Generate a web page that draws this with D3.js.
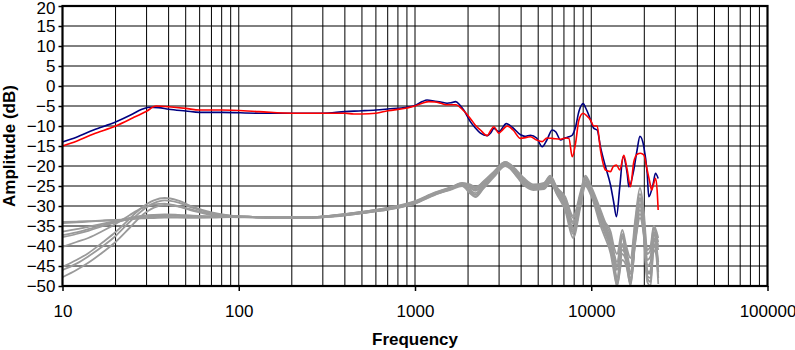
<!DOCTYPE html>
<html><head><meta charset="utf-8">
<script src="https://cdn.jsdelivr.net/npm/d3@7"></script>
<style>
body{margin:0;background:#fff}
text{font-family:"Liberation Sans",Arial,sans-serif}
</style>
</head><body>
<svg id="c" width="795" height="350"></svg>
<script>
const yTicks = [20,15,10,5,0,-5,-10,-15,-20,-25,-30,-35,-40,-45,-50];
const xTicks = [10,100,1000,10000,100000];

const blueF = [10,12,15,20,25,28,31,35,40,50,60,80,130,200,300,400,500,600,700,900,1000,1100,1170,1300,1400,1520,1600,1700,1800,1890,2060,2200,2350,2570,2700,2800,2990,3300,3600,3970,4200,4520,4900,5270,5600,6000,6300,6690,7100,7470,7800,8150,8510,9000,9300,9680,10000,10340,10800,11280,12050,12860,13400,13900,14520,15170,16000,16350,17430,18200,18900,19880,20770,21200,22440,23130,23970];
const blueDb = [-14,-12.8,-11,-9,-7,-5.9,-5.3,-5.4,-5.8,-6.25,-6.6,-6.6,-6.8,-6.8,-6.8,-6.4,-6.2,-6,-5.75,-5.3,-4.9,-3.9,-3.5,-3.8,-4,-4.3,-4.2,-3.9,-4.8,-6,-8.9,-10.5,-11.8,-12.4,-11.6,-10.6,-11.4,-9.4,-10.5,-12.2,-12.6,-12.3,-13,-15.2,-13.5,-11,-11.5,-13.5,-13,-12.7,-12.3,-10.2,-6.4,-4.4,-5.5,-7.25,-9,-10.6,-11,-15.2,-20.2,-24.75,-29,-32.7,-25.2,-17.7,-22,-25.2,-21,-16,-12.6,-15.2,-21.8,-27.7,-24.5,-21.8,-23.1];

const redF = [10,12,15,20,25,30,34,40,50,60,80,130,200,300,400,450,500,600,700,900,1000,1100,1200,1300,1400,1520,1700,1890,2060,2200,2350,2570,2700,2800,2990,3100,3340,3600,3970,4520,4900,5270,5600,6000,6690,7200,7470,7800,8150,8510,9000,9500,9900,10340,10800,11280,12050,12860,13300,13900,14520,15300,16000,16700,17430,18300,19020,19880,20770,21480,22000,22600,23130,23640,23970];
const redDb = [-15,-13.8,-12,-10,-8,-6.3,-5,-5.2,-5.6,-6,-6,-6.4,-6.8,-6.8,-6.8,-7,-7,-6.8,-6.2,-5.5,-5,-4.3,-3.9,-4,-4.3,-4.7,-4.7,-6.2,-8.1,-9.8,-11,-12.4,-11,-10.2,-11.8,-11.2,-10,-11,-13.1,-12.7,-13.5,-13.9,-13,-13.1,-13.3,-13,-13.1,-17.7,-14.3,-8.5,-6.8,-7.6,-8.5,-10,-10,-16,-21,-21.4,-20.2,-19.75,-21,-17.3,-21,-25.2,-19,-17,-16.8,-17.25,-21,-24,-26,-24.5,-23.1,-26,-31];

const grayF = [10,12,14,17,20,24,28,33,38,45,55,70,90,120,170,250,350,500,700,1000,1300,1600,1850,2050,2200,2450,2800,3250,3800,4150,4700,5400,5850,6400,7100,7900,8700,9250,10100,11300,12000,12900,13500,14000,15000,15800,16700,17800,18900,19800,20800,21700,22600,23300,24000];
const gray1 = [-34,-33.9,-33.8,-33.6,-33.5,-33.3,-33.1,-33,-32.9,-32.9,-32.9, -32.8,-32.7,-32.8,-33,-33,-32.5,-31.7,-30.8,-29.2, -27,-25.7,-24.4,-25.2,-26,-24.6,-22.2,-19.8,-22.3,-24.2, -25.6,-25.2,-23.6,-26.6,-29.5,-36.5,-29,-24,-27,-33, -36,-40,-45,-49,-40,-43,-48,-37,-30,-35, -46,-47,-38,-40,-45];
const gray2 = [-36.4,-35.8,-35.2,-34.4,-33.8,-33,-32.5,-32.2,-32.1,-32.2,-32.4, -32.6,-32.6,-32.7,-32.8,-32.8,-32.3,-31.5,-30.5,-28.9, -26.7,-25.4,-24.2,-24.6,-25.2,-24,-21.6,-19.2,-21.5,-23.4, -25,-24.6,-22.8,-25.8,-28,-33,-27,-22.8,-26,-31.5, -34.5,-37.5,-42,-44,-37,-41,-45,-34,-27,-32, -42,-41,-35.5,-37,-39];
const gray3 = [-37.3,-36.6,-35.8,-34.8,-34,-33.3,-32.9,-32.7,-32.7,-32.8,-32.9, -32.9,-32.8,-32.9,-33,-33,-32.6,-31.8,-30.9,-29.3, -27.1,-25.8,-24.8,-26.2,-27.2,-25.2,-22.5,-19.8,-22.5,-24.5, -25.8,-25.6,-24,-27,-30.5,-37,-29.5,-24.5,-27.5,-34, -37,-41,-46,-50,-42,-44,-50,-38,-31,-36, -48,-49,-40,-41,-48];
const gray4 = [-37.8,-37,-36.2,-35,-34.1,-33.2,-32.6,-32.3,-32.3,-32.4,-32.6, -32.7,-32.7,-32.8,-32.9,-32.9,-32.4,-31.6,-30.7,-29.1, -26.9,-25.6,-24.6,-25.9,-26.8,-24.8,-22,-19.4,-21.8,-23.8, -25.3,-24.8,-23,-26,-28.6,-34,-27.5,-23,-26.2,-32, -35,-38.5,-43,-46,-38,-42.5,-47,-36,-28.5,-33.5, -45,-44,-37,-38.5,-41];
const gray5 = [-40.2,-39,-38,-36.2,-34.5,-32.3,-30.6,-29.6,-29.4,-30,-31, -32,-32.5,-32.7,-32.8,-32.8,-32.3,-31.5,-30.6,-29, -26.8,-25.4,-24.4,-25,-25.6,-24.2,-21.8,-19,-21.2,-23, -24.6,-24.2,-22.4,-25.4,-27.6,-32.5,-26.4,-22.4,-25.6,-31, -34,-36.5,-40.5,-42,-36,-40,-43,-33,-25.5,-30.5, -41,-40,-35,-36,-38];
const gray6 = [-45.2,-43.5,-41.8,-39,-36.5,-33.2,-30.5,-28.6,-28,-28.6,-30.2, -31.6,-32.4,-32.7,-32.9,-32.9,-32.5,-31.7,-30.8,-29.2, -27,-25.7,-24.7,-26.6,-27.6,-25.4,-22.4,-19.6,-22.8,-24.8, -26,-25.8,-24.2,-27.2,-31,-38,-30,-25,-28,-35, -38,-42,-47,-50,-43.5,-45,-49.5,-39,-33,-37, -49,-50,-41,-42,-49.5];
const gray7 = [-46,-44.4,-42.6,-40,-37.5,-34,-31.3,-29.3,-28.6,-29.1,-30.5, -31.8,-32.5,-32.7,-32.8,-32.8,-32.4,-31.5,-30.5,-28.8, -26.6,-25.3,-24.3,-24.8,-25.4,-23.8,-21.4,-19,-21.6,-23.6, -25,-24.4,-22.6,-25.8,-28.4,-34.5,-27.8,-23.2,-26.8,-32.5, -35.5,-39.5,-44.5,-48,-39.5,-43.5,-48.5,-37.5,-29.5,-34.5, -47,-46,-38.5,-39.5,-44];
const gray8 = [-47.8,-46,-44.2,-41.5,-39,-35.5,-32.5,-30.4,-29.7,-30.1,-31.2, -32.2,-32.6,-32.8,-33,-33,-32.6,-31.8,-30.9,-29.4, -27.2,-25.9,-25,-26.8,-27.8,-25.6,-22.8,-20,-22.6,-24.6, -25.8,-25.4,-23.8,-26.8,-30,-36,-28.6,-24.2,-27.2,-33.5, -36.5,-40.5,-45.5,-49.5,-41,-43,-49,-38.5,-32,-36.5, -47.5,-48,-39.5,-40.5,-46.5];
const gray9 = [-34.3,-34.1,-33.9,-33.7,-33.5,-33.2,-32.9,-32.6,-32.4,-32.4,-32.5, -32.6,-32.6,-32.7,-32.9,-32.9,-32.4,-31.6,-30.6,-29, -26.8,-25.5,-24.5,-25.4,-26.2,-24.4,-22,-19.4,-22,-24, -25.4,-25,-23.2,-26.2,-29.2,-35.5,-28.2,-23.6,-26.6,-33, -35.8,-38,-42.5,-45,-37.5,-41.5,-46.5,-35,-28,-33, -43.5,-42.5,-36.5,-37.5,-40];
const graySeries = [gray1,gray2,gray3,gray4,gray5,gray6,gray7,gray8,gray9];

const svg = d3.select("#c");
const X0 = 62.5, X1 = 767.5, Y0 = 6, Y1 = 286;
const x = d3.scaleLog().domain([10,100000]).range([X0,X1]);
const y = d3.scaleLinear().domain([-50,20]).range([Y1,Y0]);

// grid
const gridX = [];
[10,100,1000,10000].forEach(d => { for (let k=1;k<=9;k++) if (!(k===1 && d===10)) gridX.push(k*d); });
const g = svg.append("g");
g.selectAll("line.vx").data(gridX).join("line")
  .attr("x1", d=>x(d)).attr("x2", d=>x(d)).attr("y1", Y0).attr("y2", Y1)
  .attr("stroke","#000").attr("stroke-width",1);
g.selectAll("line.hy").data(yTicks.slice(1,-1)).join("line")
  .attr("x1", X0).attr("x2", X1).attr("y1", d=>y(d)).attr("y2", d=>y(d))
  .attr("stroke","#000").attr("stroke-width",1);

const line = d3.line().x(d=>x(d[0])).y(d=>y(d[1])).curve(d3.curveMonotoneX);

svg.append("g").selectAll("path").data(graySeries).join("path")
  .attr("d", s => line(grayF.map((f,i)=>[f,s[i]])))
  .attr("fill","none").attr("stroke","#9a9a9a").attr("stroke-width",1.8);

svg.append("path").attr("d", line(blueF.map((f,i)=>[f,blueDb[i]])))
  .attr("fill","none").attr("stroke","#000080").attr("stroke-width",1.6);
svg.append("path").attr("d", line(redF.map((f,i)=>[f,redDb[i]])))
  .attr("fill","none").attr("stroke","#ff0000").attr("stroke-width",1.6);

// frame
svg.append("rect").attr("x",X0).attr("y",Y0).attr("width",X1-X0).attr("height",Y1-Y0)
  .attr("fill","none").attr("stroke","#000").attr("stroke-width",2.2);

// axes
const ax = svg.append("g").attr("transform",`translate(0,${Y1})`)
  .call(d3.axisBottom(x).tickValues(xTicks).tickFormat(d3.format("d")).tickSize(5).tickPadding(14));
const ay = svg.append("g").attr("transform",`translate(${X0},0)`)
  .call(d3.axisLeft(y).tickValues(yTicks).tickSize(4).tickPadding(3));
[ax,ay].forEach(a => {
  a.select(".domain").remove();
  a.selectAll("line").attr("stroke","#000").attr("stroke-width",1.5);
  a.selectAll("text").attr("font-size",17).attr("fill","#000")
   .style("font-family",'"Liberation Sans",Arial,sans-serif');
});
ay.selectAll(".tick text").filter(d => d === yTicks[0]).attr("dy","0.42em");

svg.append("text").attr("x",(X0+X1)/2).attr("y",345).attr("text-anchor","middle")
  .attr("font-size",17).attr("font-weight","bold").text("Frequency");
svg.append("text").attr("transform",`translate(15,${(Y0+Y1)/2}) rotate(-90)`)
  .attr("text-anchor","middle").attr("font-size",17).attr("font-weight","bold").text("Amplitude (dB)");
</script>
</body></html>
